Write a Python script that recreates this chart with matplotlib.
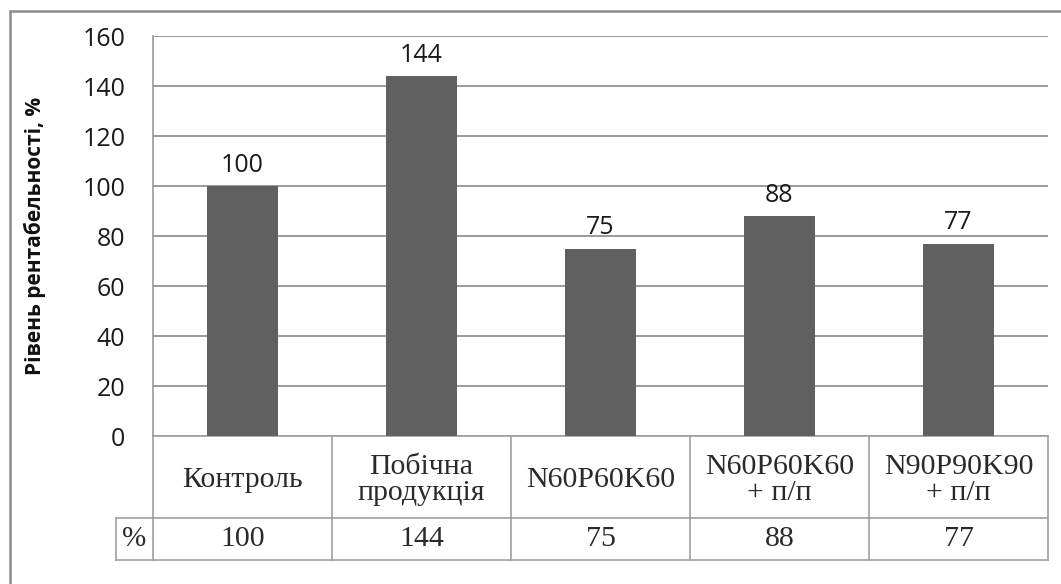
import matplotlib
matplotlib.use("Agg")
import matplotlib.pyplot as plt
from matplotlib.patches import Rectangle
from matplotlib.lines import Line2D
import matplotlib.transforms as mtransforms

categories = ["Контроль", "Побічна\nпродукція", "N60P60K60", "N60P60K60\n+ п/п", "N90P90K90\n+ п/п"]
values = [100, 144, 75, 88, 77]
yticks = [0, 20, 40, 60, 80, 100, 120, 140, 160]
ylabel = "Рівень рентабельності, %"
row_label = "%"

W, H = 1061, 584
fig = plt.figure(figsize=(W / 100, H / 100), dpi=100)
fig.patch.set_facecolor("white")

# plot area in pixels
L, T, R, B = 153, 36, 1048, 436
ax = fig.add_axes([L / W, 1 - B / H, (R - L) / W, (B - T) / H])

x = list(range(len(categories)))
bars = ax.bar(x, values, width=0.4, color="#606060", zorder=3)
ax.set_xlim(-0.5, len(categories) - 0.5)
ax.set_ylim(0, 160)
ax.set_yticks(yticks)
ax.set_xticks([])
ax.yaxis.grid(True, color="#8a8a8a", lw=1.2)
ax.set_axisbelow(True)
for s in ["top", "right", "bottom"]:
    ax.spines[s].set_visible(False)
ax.spines["left"].set_color("#9a9a9a")
ax.spines["left"].set_linewidth(1.2)

sans = ["Open Sans", "DejaVu Sans"]
serif = ["Liberation Serif", "DejaVu Serif"]
ax.tick_params(axis="y", length=0, pad=20, labelsize=18, labelcolor="#1a1a1a")
for lab in ax.get_yticklabels():
    lab.set_family(sans)

ax.bar_label(bars, labels=[str(v) for v in values], padding=6, fontsize=18,
             family=sans, color="#1a1a1a")

ax.set_ylabel(ylabel, fontsize=15, fontweight="bold", family=sans, color="#111111")
ax.yaxis.set_label_coords((46 - L) / (R - L), 0.5)

# data table below axis
r0 = 0.0
r1 = (B - 518) / (B - T)
r2 = (B - 560) / (B - T)
xl = (116 - L) / (R - L)
tc = "#a0a0a0"
blend = mtransforms.blended_transform_factory(ax.transData, ax.transAxes)

ax.add_line(Line2D([xl, 1], [r1, r1], transform=ax.transAxes, color=tc, lw=1.2, clip_on=False))
ax.add_line(Line2D([xl, 1], [r2, r2], transform=ax.transAxes, color=tc, lw=1.2, clip_on=False))
ax.add_line(Line2D([0, 1], [r0, r0], transform=ax.transAxes, color=tc, lw=1.2, clip_on=False))
ax.add_line(Line2D([xl, xl], [r2, r1], transform=ax.transAxes, color=tc, lw=1.2, clip_on=False))
for i in range(len(categories) + 1):
    xb = i - 0.5
    ax.add_line(Line2D([xb, xb], [r2, r0], transform=blend, color=tc, lw=1.2, clip_on=False))

tx = "#2a2a2a"
for i, (c, v) in enumerate(zip(categories, values)):
    ax.text(i, (r0 + r1) / 2 - 0.008, c, transform=blend, ha="center", va="center",
            fontsize=21.5, family=serif, linespacing=1.0, color=tx)
    ax.text(i, (r1 + r2) / 2, str(v), transform=blend, ha="center", va="center",
            fontsize=21.5, family=serif, color=tx)
ax.text((xl + 0) / 2, (r1 + r2) / 2, row_label, transform=ax.transAxes, ha="center",
        va="center", fontsize=21, family=serif, color=tx)

# outer chart border
fig.add_artist(Rectangle((10 / W, -0.1), 1.2, 1 - 11 / H + 0.1, fill=False,
                         ec="#8a8a8a", lw=1.8, transform=fig.transFigure))

fig.savefig("out.png", dpi=100, facecolor="white")
